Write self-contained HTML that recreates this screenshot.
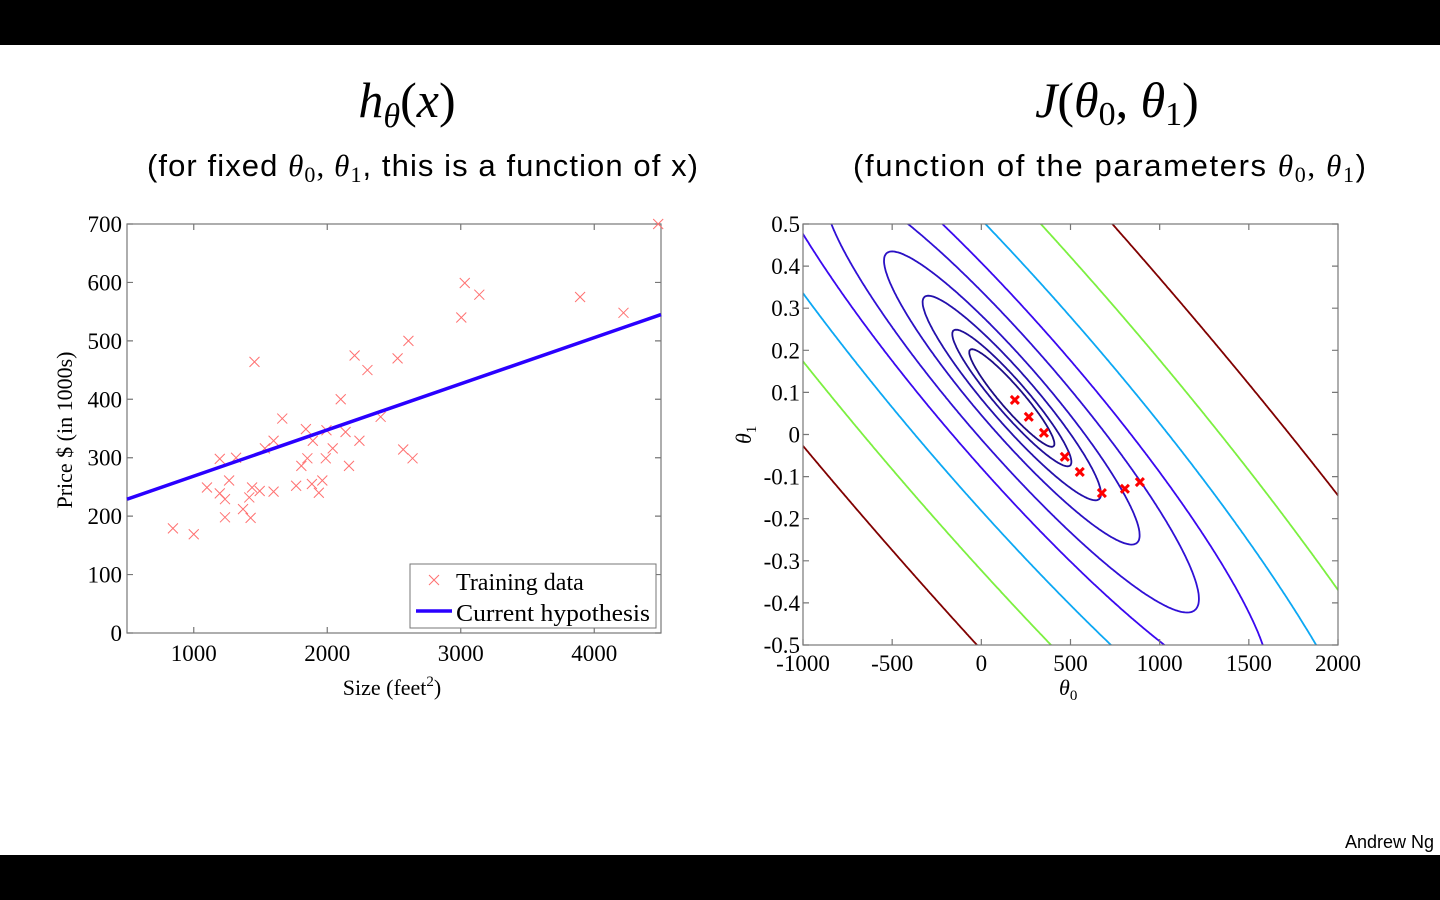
<!DOCTYPE html>
<html><head><meta charset="utf-8"><style>
html,body{margin:0;padding:0;background:#fff;}
svg{display:block;}
.serif{font-family:"Liberation Serif","DejaVu Serif",serif;}
.sans{font-family:"Liberation Sans","DejaVu Sans",sans-serif;}
</style></head><body>
<svg id="root" width="1440" height="900" viewBox="0 0 1440 900" xmlns="http://www.w3.org/2000/svg">
<rect x="0" y="0" width="1440" height="45" fill="#000"/>
<rect x="0" y="855" width="1440" height="45" fill="#000"/>
<text x="407" y="117" font-size="50" font-style="italic" class="serif" text-anchor="middle">h<tspan font-size="34" dy="10">θ</tspan><tspan dy="-10" font-style="normal">(</tspan>x<tspan font-style="normal">)</tspan></text>
<text x="1117" y="117" font-size="50" font-style="italic" class="serif" text-anchor="middle">J<tspan font-style="normal">(</tspan>θ<tspan font-size="34" dy="8" font-style="normal">0</tspan><tspan dy="-8" font-style="normal">, </tspan>θ<tspan font-size="34" dy="8" font-style="normal">1</tspan><tspan dy="-8" font-style="normal">)</tspan></text>
<text x="147" y="176" font-size="31" class="sans" textLength="551" lengthAdjust="spacing">(for fixed <tspan class="serif" font-style="italic">θ</tspan><tspan class="serif" font-size="22" dy="6">0</tspan><tspan class="serif" dy="-6">, </tspan><tspan class="serif" font-style="italic">θ</tspan><tspan class="serif" font-size="22" dy="6">1</tspan><tspan dy="-6">, this is a function of x)</tspan></text>
<text x="853" y="176" font-size="31" class="sans" textLength="513" lengthAdjust="spacing">(function of the parameters  <tspan class="serif" font-style="italic">θ</tspan><tspan class="serif" font-size="22" dy="6">0</tspan><tspan class="serif" dy="-6">, </tspan><tspan class="serif" font-style="italic">θ</tspan><tspan class="serif" font-size="22" dy="6">1</tspan><tspan dy="-6">)</tspan></text>
<text x="1434" y="848" font-size="18" class="sans" text-anchor="end">Andrew Ng</text>
<g id="left"></g>
<g id="right"></g>
</svg>
<script>
// ---- Left chart data ----
const sizeValues = [844,1000,1099,1195,1195,1234,1234,1265,1317,1369,1416,1426,1437,1455,1494,1533,1598,1598,1663,1767,1806,1840,1851,1885,1892,1937,1963,1989,1994,2041,2101,2137,2163,2205,2241,2301,2400,2527,2569,2608,2639,3004,3030,3139,3894,4219,4479];
const priceValues = [179,169,249,298,239,229,198,261,300,212,232,197,249,464,243,316,242,329,367,252,286,349,299,255,329,240,261,299,347,316,400,344,286,475,329,450,370,470,314,500,299,540,599,579,575,548,700];
const hypothesisTheta = [189.5, 0.079];
const xTicks = [1000,2000,3000,4000];
const yTicks = [0,100,200,300,400,500,600,700];
// ---- Right chart data ----
const thetaCenter = [171, 0.0867];
const costCoef = [1, 3857, 4.239e6];
const contourLevels = [7.0e3,1.37e4,3.07e4,6.3e4,1.35e5,2.55e5,5.1e5,1.01e6,1.94e6];
const contourColors = ["#1c0c86","#200e98","#2410ac","#2a10c4","#3010d6","#3a08f0","#0ca8f4","#7cf040","#800000"];
const pathTheta0 = [188,266,351,468,552,676,805,889];
const pathTheta1 = [0.082,0.042,0.004,-0.053,-0.089,-0.139,-0.129,-0.113];
const t0Ticks = [-1000,-500,0,500,1000,1500,2000];
const t0Labels = ["-1000","-500","0","500","1000","1500","2000"];
const t1Ticks = [0.5,0.4,0.3,0.2,0.1,0,-0.1,-0.2,-0.3,-0.4,-0.5];
const t1Labels = ["0.5","0.4","0.3","0.2","0.1","0","-0.1","-0.2","-0.3","-0.4","-0.5"];

const NS="http://www.w3.org/2000/svg";
function mk(parent,tag,attrs,text){const e=document.createElementNS(NS,tag);for(const k in attrs)e.setAttribute(k,attrs[k]);if(text!==undefined)e.textContent=text;parent.appendChild(e);return e;}

// Left axes
const L={x0:127,x1:661,y0:224,y1:633,xmin:500,xmax:4500,ymin:0,ymax:700};
const lx=v=>L.x0+(v-L.xmin)/(L.xmax-L.xmin)*(L.x1-L.x0);
const ly=v=>L.y1-(v-L.ymin)/(L.ymax-L.ymin)*(L.y1-L.y0);
const lg=document.getElementById('left');
let e=mk(lg,'rect',{x:L.x0,y:L.y0,width:L.x1-L.x0,height:L.y1-L.y0,fill:'#fff',stroke:'#777','stroke-width':1.2});


xTicks.forEach(t=>{const x=lx(t);
 mk(lg,'path',{d:`M${x},${L.y1}v-6M${x},${L.y0}v6`,stroke:'#777','stroke-width':1.2});
 e=mk(lg,'text',{x:x,y:661,'font-size':23,'text-anchor':'middle',class:'serif'},String(t));
 
 });
yTicks.forEach(t=>{const y=ly(t);
 mk(lg,'path',{d:`M${L.x0},${y}h6M${L.x1},${y}h-6`,stroke:'#777','stroke-width':1.2});
 e=mk(lg,'text',{x:122,y:y+8,'font-size':23,'text-anchor':'end',class:'serif'},String(t));
 
 });
e=mk(lg,'text',{x:392,y:695,'font-size':22,'text-anchor':'middle',class:'serif'});
e.innerHTML='Size (feet<tspan font-size="15" dy="-9">2</tspan><tspan dy="9">)</tspan>';


e=mk(lg,'text',{x:0,y:0,'font-size':22,'text-anchor':'middle',class:'serif',transform:'translate(72,430) rotate(-90)'},'Price $ (in 1000s)');


const cross=(g,x,y,s,col,w)=>mk(g,'path',{d:`M${x-s},${y-s}L${x+s},${y+s}M${x-s},${y+s}L${x+s},${y-s}`,stroke:col,'stroke-width':w,fill:'none'});
const sg=mk(lg,'g',{});


sizeValues.forEach((s,i)=>{e=cross(sg,lx(s),ly(priceValues[i]),5,'#ff7070',1);
 
 });
e=mk(lg,'line',{x1:lx(L.xmin),y1:ly(hypothesisTheta[0]+hypothesisTheta[1]*L.xmin),x2:lx(L.xmax),y2:ly(hypothesisTheta[0]+hypothesisTheta[1]*L.xmax),stroke:'#2a00ff','stroke-width':3.5});


const leg=mk(lg,'g',{});


mk(leg,'rect',{x:410,y:564,width:246,height:64,fill:'#fff',stroke:'#777','stroke-width':1});
e=cross(leg,434,580,5,'#ff7070',1);


e=mk(leg,'text',{x:456,y:590,'font-size':24,class:'serif'},'Training data');


e=mk(leg,'line',{x1:416,y1:611,x2:452,y2:611,stroke:'#2a00ff','stroke-width':3.5});


e=mk(leg,'text',{x:456,y:621,'font-size':24,class:'serif',textLength:194,lengthAdjust:'spacingAndGlyphs'},'Current hypothesis');



// Right axes
const R={x0:803,x1:1338,y0:224,y1:645,xmin:-1000,xmax:2000,ymin:-0.5,ymax:0.5};
const rx=v=>R.x0+(v-R.xmin)/(R.xmax-R.xmin)*(R.x1-R.x0);
const ry=v=>R.y1-(v-R.ymin)/(R.ymax-R.ymin)*(R.y1-R.y0);
const rg=document.getElementById('right');
mk(rg,'defs',{}).innerHTML='<clipPath id="rclip"><rect x="803" y="224" width="535" height="421"/></clipPath>';
e=mk(rg,'rect',{x:R.x0,y:R.y0,width:R.x1-R.x0,height:R.y1-R.y0,fill:'#fff'});


function J(a,b){const d0=a-thetaCenter[0],d1=b-thetaCenter[1];return costCoef[0]*d0*d0+costCoef[1]*d0*d1+costCoef[2]*d1*d1;}
const NX=360,NY=260;
const grid=[];
for(let j=0;j<=NY;j++){const row=[];const b=R.ymin+(R.ymax-R.ymin)*j/NY;for(let i=0;i<=NX;i++){row.push(J(R.xmin+(R.xmax-R.xmin)*i/NX,b));}grid.push(row);}
const gx=i=>rx(R.xmin+(R.xmax-R.xmin)*i/NX), gy=j=>ry(R.ymin+(R.ymax-R.ymin)*j/NY);
const cg=mk(rg,'g',{'clip-path':'url(#rclip)'});
contourLevels.forEach((lev,k)=>{
 let d='';
 for(let j=0;j<NY;j++)for(let i=0;i<NX;i++){
  const v=[grid[j][i],grid[j][i+1],grid[j+1][i+1],grid[j+1][i]];
  const c=[[i,j],[i+1,j],[i+1,j+1],[i,j+1]];
  const pts=[];
  for(let q=0;q<4;q++){const a=v[q],b=v[(q+1)%4];if((a<lev)!==(b<lev)){const t=(lev-a)/(b-a);const p1=c[q],p2=c[(q+1)%4];
   pts.push([gx(p1[0]+(p2[0]-p1[0])*t),gy(p1[1]+(p2[1]-p1[1])*t)]);}}
  for(let q=0;q+1<pts.length;q+=2)d+=`M${pts[q][0].toFixed(1)},${pts[q][1].toFixed(1)}L${pts[q+1][0].toFixed(1)},${pts[q+1][1].toFixed(1)}`;
 }
 e=mk(cg,'path',{d:d,stroke:contourColors[k],'stroke-width':1.8,fill:'none','stroke-linecap':'round'});
 
 
});
e=mk(rg,'rect',{x:R.x0,y:R.y0,width:R.x1-R.x0,height:R.y1-R.y0,fill:'none',stroke:'#777','stroke-width':1.2});


t0Ticks.forEach((t,i)=>{const x=rx(t);
 mk(rg,'path',{d:`M${x},${R.y1}v-6M${x},${R.y0}v6`,stroke:'#777','stroke-width':1.2});
 e=mk(rg,'text',{x:x,y:671,'font-size':23,'text-anchor':'middle',class:'serif'},t0Labels[i]);
 
 });
t1Ticks.forEach((t,i)=>{const y=ry(t);
 mk(rg,'path',{d:`M${R.x0},${y}h6M${R.x1},${y}h-6`,stroke:'#777','stroke-width':1.2});
 e=mk(rg,'text',{x:800,y:y+8,'font-size':23,'text-anchor':'end',class:'serif'},t1Labels[i]);
 
 });
e=mk(rg,'text',{x:1059,y:695,'font-size':22,'font-style':'italic',class:'serif'});
e.innerHTML='θ<tspan font-size="15" dy="5" font-style="normal">0</tspan>';


e=mk(rg,'text',{x:0,y:0,'font-size':22,'font-style':'italic',class:'serif',transform:'translate(751,444) rotate(-90)'});
e.innerHTML='θ<tspan font-size="15" dy="5" font-style="normal">1</tspan>';


const pg=mk(rg,'g',{});


pathTheta0.forEach((a,i)=>{e=cross(pg,rx(a),ry(pathTheta1[i]),4,'#ff0000',3);
 
 });
</script>
</body></html>
